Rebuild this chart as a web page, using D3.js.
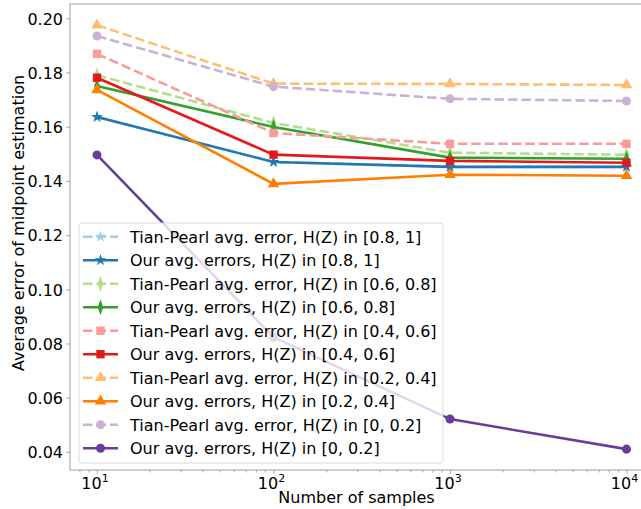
<!DOCTYPE html>
<html>
<head>
<meta charset="utf-8">
<script src="https://cdn.jsdelivr.net/npm/d3@7"></script>
<style>
  body { margin: 0; background: #fff; }
  svg text { font-family: "DejaVu Sans", sans-serif; }
</style>
</head>
<body>
<svg id="chart"></svg>
<script>
// data
const samples = [10, 100, 1000, 10000];
const seriesLabels = [
  'Tian-Pearl avg. error, H(Z) in [0.8, 1]',
  'Our avg. errors, H(Z) in [0.8, 1]',
  'Tian-Pearl avg. error, H(Z) in [0.6, 0.8]',
  'Our avg. errors, H(Z) in [0.6, 0.8]',
  'Tian-Pearl avg. error, H(Z) in [0.4, 0.6]',
  'Our avg. errors, H(Z) in [0.4, 0.6]',
  'Tian-Pearl avg. error, H(Z) in [0.2, 0.4]',
  'Our avg. errors, H(Z) in [0.2, 0.4]',
  'Tian-Pearl avg. error, H(Z) in [0, 0.2]',
  'Our avg. errors, H(Z) in [0, 0.2]'
];
const tian08 = [0.1636, 0.1470, 0.1452, 0.1452];
const our08  = [0.1636, 0.1470, 0.1452, 0.1452];
const tian06 = [0.1790, 0.1614, 0.1504, 0.1497];
const our06  = [0.1750, 0.1599, 0.1486, 0.1482];
const tian04 = [0.1869, 0.1577, 0.1537, 0.1537];
const our04  = [0.1781, 0.1497, 0.1474, 0.1467];
const tian02 = [0.1975, 0.1759, 0.1758, 0.1754];
const our02  = [0.1736, 0.1389, 0.1423, 0.1419];
const tian00 = [0.1935, 0.1748, 0.1703, 0.1695];
const our00  = [0.1496, 0.0823, 0.0521, 0.0410];
const yTicks = [0.04, 0.06, 0.08, 0.10, 0.12, 0.14, 0.16, 0.18, 0.20];
const xTicks = [10, 100, 1000, 10000];

const allValues = [tian08, our08, tian06, our06, tian04, our04, tian02, our02, tian00, our00];
const colors = ['#a6cee3', '#1f78b4', '#b2df8a', '#33a02c', '#fb9a99',
                '#e31a1c', '#fdbf6f', '#ff7f00', '#cab2d6', '#6a3d9a'];
const markers = ['star', 'star', 'diamond', 'diamond', 'square', 'square',
                 'triangle', 'triangle', 'circle', 'circle'];

const series = seriesLabels.map((label, i) => ({
  label: label,
  values: allValues[i].map((v, j) => ({ n: samples[j], err: v })),
  color: colors[i],
  marker: markers[i],
  dashed: i % 2 === 0
}));

const width = 641, height = 509;
const margin = { left: 70, top: 4, right: -12, bottom: 39 };
const fontSize = 16;

const svg = d3.select('#chart')
  .attr('width', width)
  .attr('height', height);

const x = d3.scaleLog()
  .domain([Math.pow(10, 0.847), Math.pow(10, 4.15)])
  .range([margin.left, width - margin.right]);

const y = d3.scaleLinear()
  .domain([0.0333, 0.2053])
  .range([height - margin.bottom, margin.top]);

// marker shapes
function symbolPath(type) {
  if (type === 'star') return d3.symbol(d3.symbolStar, 42)();
  if (type === 'square') return d3.symbol(d3.symbolSquare, 70)();
  if (type === 'triangle') return d3.symbol(d3.symbolTriangle, 58)();
  if (type === 'circle') return d3.symbol(d3.symbolCircle, 64)();
  return d3.symbol(d3.symbolDiamond, 66)();
}
function symbolTransform(type, px, py) {
  if (type === 'diamond') return `translate(${px},${py}) scale(0.65,1.05)`;
  return `translate(${px},${py})`;
}

// axes
const xAxis = d3.axisBottom(x)
  .tickValues(xTicks)
  .tickSize(4)
  .tickFormat('');
const yAxis = d3.axisLeft(y)
  .tickValues(yTicks)
  .tickSize(4)
  .tickFormat(d3.format('.2f'));

const gx = svg.append('g')
  .attr('transform', `translate(0,${height - margin.bottom})`)
  .call(xAxis);

// minor ticks on the log axis
const minor = [];
for (let e = 0; e < 5; e++) {
  for (let k = 2; k < 10; k++) {
    const v = k * Math.pow(10, e);
    if (v > x.domain()[0] && v < x.domain()[1]) minor.push(v);
  }
}
gx.selectAll('.minor')
  .data(minor)
  .join('line')
  .attr('class', 'minor')
  .attr('x1', d => x(d)).attr('x2', d => x(d))
  .attr('y1', 0).attr('y2', 2.5)
  .attr('stroke', '#aaa');

gx.selectAll('.xlab')
  .data(xTicks)
  .join('text')
  .attr('class', 'xlab')
  .attr('x', d => x(d) - 2)
  .attr('y', 19)
  .attr('text-anchor', 'middle')
  .attr('font-size', fontSize)
  .attr('fill', '#000')
  .each(function(d) {
    const t = d3.select(this);
    t.append('tspan').text('10');
    t.append('tspan')
      .attr('dy', -7)
      .attr('font-size', 11)
      .text(Math.round(Math.log10(d)));
  });

const gy = svg.append('g')
  .attr('transform', `translate(${margin.left},0)`)
  .call(yAxis);

svg.selectAll('.domain').remove();
svg.selectAll('.tick line').attr('stroke', '#aaa');
gy.selectAll('.tick text')
  .attr('font-size', fontSize)
  .attr('fill', '#000')
  .attr('x', -7)
  .attr('dy', '0.36em');

// frame
svg.append('rect')
  .attr('x', margin.left)
  .attr('y', margin.top)
  .attr('width', x.range()[1] - margin.left)
  .attr('height', height - margin.bottom - margin.top)
  .attr('fill', 'none')
  .attr('stroke', '#b0b0b0')
  .attr('stroke-width', 1.2);

// axis titles
svg.append('text')
  .attr('x', (margin.left + x.range()[1]) / 2 - 5)
  .attr('y', 503)
  .attr('text-anchor', 'middle')
  .attr('font-size', fontSize)
  .text('Number of samples');

svg.append('text')
  .attr('transform', `translate(24,${(margin.top + height - margin.bottom) / 2 - 14}) rotate(-90)`)
  .attr('text-anchor', 'middle')
  .attr('font-size', fontSize)
  .text('Average error of midpoint estimation');

// lines and markers
const line = d3.line()
  .x(d => x(d.n))
  .y(d => y(d.err));

const plot = svg.append('g');
series.forEach(s => {
  const g = plot.append('g');
  g.append('path')
    .datum(s.values)
    .attr('d', line)
    .attr('fill', 'none')
    .attr('stroke', s.color)
    .attr('stroke-width', 2.6)
    .attr('stroke-dasharray', s.dashed ? '9.5,4' : null);
  g.selectAll('path.mark')
    .data(s.values)
    .join('path')
    .attr('class', 'mark')
    .attr('d', symbolPath(s.marker))
    .attr('transform', d => symbolTransform(s.marker, x(d.n), y(d.err)))
    .attr('fill', s.color);
});

// legend
const legend = svg.append('g');
legend.append('rect')
  .attr('x', 79).attr('y', 223)
  .attr('width', 364).attr('height', 240)
  .attr('rx', 3)
  .attr('fill', '#fff')
  .attr('fill-opacity', 0.8)
  .attr('stroke', '#ddd');

const rows = legend.selectAll('.row')
  .data(series)
  .join('g')
  .attr('class', 'row')
  .attr('transform', (d, i) => `translate(0,${236.7 + i * 23.5})`);

rows.append('line')
  .attr('x1', 83).attr('x2', 118)
  .attr('stroke', d => d.color)
  .attr('stroke-width', 2.6)
  .attr('stroke-dasharray', d => d.dashed ? '9.5,4' : null);
rows.append('path')
  .attr('d', d => symbolPath(d.marker))
  .attr('transform', d => symbolTransform(d.marker, 100.5, 0))
  .attr('fill', d => d.color);
rows.append('text')
  .attr('x', 130)
  .attr('y', 6)
  .attr('font-size', fontSize)
  .attr('fill', '#000')
  .text(d => d.label);
</script>
</body>
</html>
